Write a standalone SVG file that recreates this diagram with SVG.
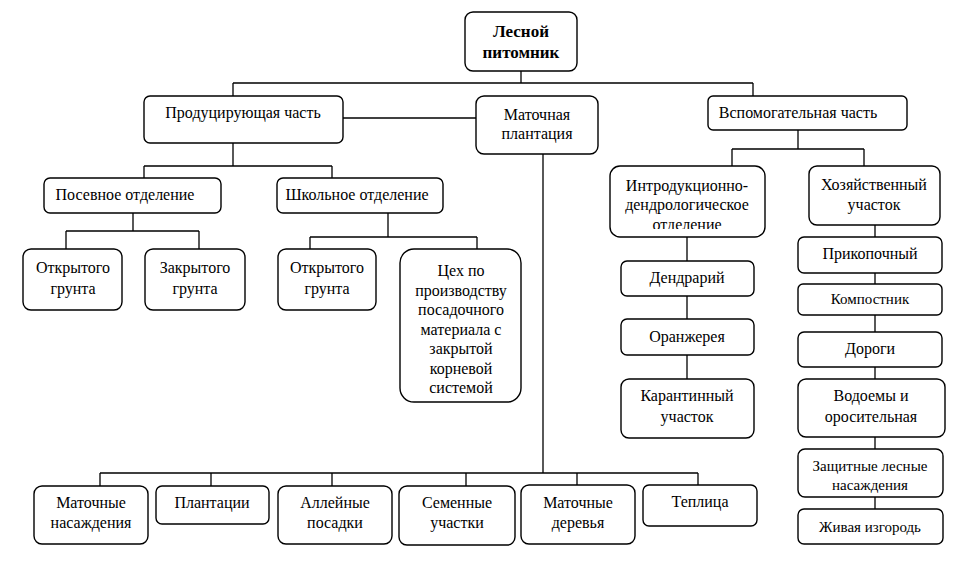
<svg xmlns="http://www.w3.org/2000/svg" width="956" height="579" viewBox="0 0 956 579">
<style>
.b{fill:#fff;stroke:#000;stroke-width:1.4}
.c{fill:none;stroke:#000;stroke-width:1.3}
text{font-size:16px;fill:#000;text-anchor:middle}
.t{font-weight:bold;font-size:17px}
.s{font-size:15px}
</style>
<defs>
<clipPath id="clipIntro"><rect x="611" y="167" width="153" height="62"/></clipPath>
</defs>
<rect width="956" height="579" fill="#fff"/>
<g id="connectors">
<path class="c" d="M521,71V83M233,83H753M233,83V96M753,83V96"/>
<path class="c" d="M343,118H476"/>
<path class="c" d="M233,143V166M144,166H332M144,166V178M332,166V178"/>
<path class="c" d="M133,213V231M66,231H199M66,231V249M199,231V249"/>
<path class="c" d="M388,213V237M310,237H477M310,237V249M477,237V249"/>
<path class="c" d="M543,154V473M100,473H698M100,473V486M211,473V486M332,473V486M466,473V486M577,473V485M698,473V485"/>
<path class="c" d="M798,130V149M732,149H864M732,149V166M864,149V166"/>
<path class="c" d="M687,237V261M687,296V319M687,355V379"/>
<path class="c" d="M875,225V237M875,273V284M875,315V332M875,367V379M875,437V449M875,497V509"/>
</g>
<g font-family="Liberation Serif">
<g id="root"><rect class="b" x="465" y="12" width="112" height="59" rx="8"/><text class="t" x="521" y="37">Лесной</text><text class="t" x="521" y="58">питомник</text></g>
<g id="prod"><rect class="b" x="144" y="96" width="199" height="47" rx="6"/><text x="243" y="118">Продуцирующая часть</text></g>
<g id="mat"><rect class="b" x="476" y="96" width="122" height="58" rx="8"/><text x="537" y="120">Маточная</text><text x="537" y="139">плантация</text></g>
<g id="vsp"><rect class="b" x="708" y="96" width="199" height="34" rx="5"/><text x="798" y="118">Вспомогательная часть</text></g>
<g id="posev"><rect class="b" x="44" y="178" width="177" height="35" rx="6"/><text x="125" y="200">Посевное отделение</text></g>
<g id="shkol"><rect class="b" x="277" y="178" width="166" height="35" rx="6"/><text x="357" y="200">Школьное отделение</text></g>
<g id="otkr1"><rect class="b" x="23" y="249" width="99" height="61" rx="8"/><text x="73" y="273">Открытого</text><text x="73" y="294">грунта</text></g>
<g id="zakr"><rect class="b" x="145" y="249" width="100" height="61" rx="8"/><text x="195" y="273">Закрытого</text><text x="195" y="294">грунта</text></g>
<g id="otkr2"><rect class="b" x="278" y="249" width="98" height="61" rx="8"/><text x="327" y="273">Открытого</text><text x="327" y="294">грунта</text></g>
<g id="tseh"><rect class="b" x="400" y="249" width="121" height="153" rx="14"/>
<text x="461" y="276">Цех по</text><text x="461" y="295.5">производству</text><text x="461" y="315">посадочного</text><text x="461" y="334.5">материала с</text><text x="461" y="354">закрытой</text><text x="461" y="373.5">корневой</text><text x="461" y="393">системой</text></g>
<g id="intro"><rect class="b" x="610" y="166" width="155" height="71" rx="10"/>
<text x="687" y="191">Интродукционно-</text><text x="687" y="210">дендрологическое</text><text x="687" y="230" clip-path="url(#clipIntro)">отделение</text></g>
<g id="hoz"><rect class="b" x="809" y="166" width="131" height="59" rx="8"/><text x="874" y="190">Хозяйственный</text><text x="874" y="210">участок</text></g>
<g id="dendr"><rect class="b" x="621" y="261" width="133" height="35" rx="6"/><text x="687" y="283">Дендрарий</text></g>
<g id="oranzh"><rect class="b" x="621" y="319" width="133" height="36" rx="6"/><text x="687" y="342">Оранжерея</text></g>
<g id="karant"><rect class="b" x="621" y="379" width="133" height="59" rx="8"/><text x="687" y="401">Карантинный</text><text x="687" y="422">участок</text></g>
<g id="prikop"><rect class="b" x="798" y="237" width="144" height="36" rx="6"/><text x="870" y="259">Прикопочный</text></g>
<g id="kompost"><rect class="b" x="798" y="284" width="144" height="31" rx="5"/><text class="s" x="870" y="304">Компостник</text></g>
<g id="dorogi"><rect class="b" x="798" y="332" width="144" height="35" rx="6"/><text x="870" y="354">Дороги</text></g>
<g id="vodoem"><rect class="b" x="798" y="379" width="147" height="58" rx="8"/><text x="871" y="401">Водоемы и</text><text x="871" y="422">оросительная</text></g>
<g id="zasch"><rect class="b" x="798" y="449" width="145" height="48" rx="7"/><text class="s" x="870" y="471">Защитные лесные</text><text class="s" x="870" y="490">насаждения</text></g>
<g id="zhiv"><rect class="b" x="798" y="509" width="145" height="35" rx="6"/><text class="s" x="870" y="532">Живая изгородь</text></g>
<g id="matnas"><rect class="b" x="34" y="486" width="114" height="58" rx="8"/><text x="91" y="508">Маточные</text><text x="91" y="528">насаждения</text></g>
<g id="plant"><rect class="b" x="156" y="486" width="113" height="38" rx="6"/><text x="212" y="508">Плантации</text></g>
<g id="allei"><rect class="b" x="278" y="486" width="114" height="58" rx="8"/><text x="335" y="508">Аллейные</text><text x="335" y="528">посадки</text></g>
<g id="semen"><rect class="b" x="399" y="486" width="116" height="59" rx="8"/><text x="457" y="508">Семенные</text><text x="457" y="528">участки</text></g>
<g id="matder"><rect class="b" x="521" y="485" width="114" height="59" rx="8"/><text x="578" y="508">Маточные</text><text x="578" y="528">деревья</text></g>
<g id="tepl"><rect class="b" x="643" y="485" width="114" height="41" rx="6"/><text x="700" y="507">Теплица</text></g>
</g>
</svg>
